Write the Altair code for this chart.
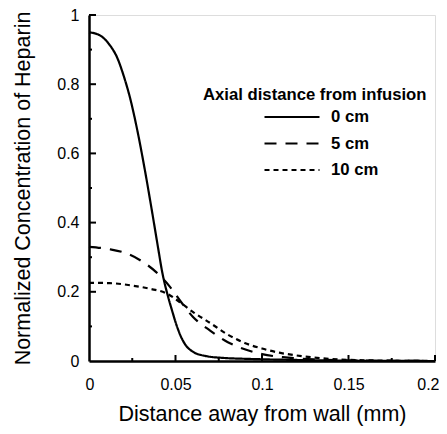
import altair as alt
import pandas as pd

series_names = ["0 cm", "5 cm", "10 cm"]

x_0cm = [0, 0.006, 0.012, 0.016, 0.020, 0.024, 0.028, 0.032, 0.036, 0.040, 0.0422,
         0.0457, 0.048, 0.0505, 0.053, 0.056, 0.060, 0.0678, 0.0774, 0.093, 0.12, 0.15, 0.2]
y_0cm = [0.950, 0.942, 0.913, 0.880, 0.825, 0.755, 0.665, 0.560, 0.445, 0.325, 0.260,
         0.186, 0.146, 0.105, 0.072, 0.045, 0.027, 0.014, 0.009, 0.006, 0.003, 0.001, 0.0]

x_5cm = [0, 0.012, 0.020, 0.030, 0.039, 0.0467, 0.053, 0.060, 0.070, 0.080, 0.090, 0.100,
         0.112, 0.13, 0.15, 0.2]
y_5cm = [0.330, 0.323, 0.314, 0.290, 0.256, 0.215, 0.172, 0.128, 0.088, 0.055, 0.034, 0.020,
         0.011, 0.005, 0.0015, 0.0]

x_10cm = [0, 0.012, 0.025, 0.035, 0.045, 0.052, 0.060, 0.070, 0.080, 0.090, 0.100, 0.110,
          0.120, 0.130, 0.140, 0.160, 0.2]
y_10cm = [0.226, 0.225, 0.218, 0.209, 0.195, 0.172, 0.142, 0.110, 0.077, 0.052, 0.036, 0.024,
          0.016, 0.010, 0.006, 0.002, 0.0]

x_label_values = [0, 0.05, 0.1, 0.15, 0.2]
x_major_ticks = [0.05, 0.1, 0.15, 0.2]
x_minor_ticks = [0.025, 0.075, 0.125, 0.175]
y_label_values = [0, 0.2, 0.4, 0.6, 0.8, 1]
y_major_ticks = [0.2, 0.4, 0.6, 0.8, 1.0]
y_minor_ticks = [0.1, 0.3, 0.5, 0.7, 0.9]

x_title = "Distance away from wall (mm)"
y_title = "Normalized Concentration of Heparin"
legend_title = "Axial distance from infusion"

rows = []
for name, xs_, ys_ in [("0 cm", x_0cm, y_0cm), ("5 cm", x_5cm, y_5cm), ("10 cm", x_10cm, y_10cm)]:
    for xv, yv in zip(xs_, ys_):
        rows.append({"x": xv, "y": yv, "series": name})
df = pd.DataFrame(rows)

W, H = 346, 346
FONT = "Liberation Sans, Arial, Helvetica"


def xscale():
    return alt.Scale(domain=[0, 0.2], nice=False, zero=False)


def yscale():
    return alt.Scale(domain=[0, 1], nice=False, zero=False)


lines = alt.Chart(df).mark_line(interpolate="monotone", strokeWidth=2.2, color="black").encode(
    x=alt.X("x:Q", scale=xscale(), axis=alt.Axis(
        orient="bottom", values=x_label_values, format="~g", ticks=False, grid=False,
        domainColor="black", domainWidth=2.5, labelFont=FONT, labelFontSize=16,
        labelColor="black", labelPadding=15, labelFlush=True, labelFlushOffset=4,
        title=x_title, titleFont=FONT, titleFontSize=21.5, titleFontWeight="normal",
        titleColor="black", titlePadding=11)),
    y=alt.Y("y:Q", scale=yscale(), axis=alt.Axis(
        orient="left", values=y_label_values, format="~g", ticks=False, grid=False,
        domainColor="black", domainWidth=2.5, labelFont=FONT, labelFontSize=16,
        labelColor="black", labelPadding=10, labelFlush=False, title=y_title, titleFont=FONT,
        titleFontSize=21.5, titleFontWeight="normal", titleColor="black", titlePadding=22)),
    strokeDash=alt.StrokeDash("series:N", scale=alt.Scale(
        domain=series_names, range=[[1, 0], [12, 9], [5, 4]]),
        legend=alt.Legend(orient="none", legendX=174, legendY=92, title=None,
                          symbolType="stroke", symbolSize=3025, symbolStrokeWidth=2.2,
                          symbolStrokeColor="black", labelFont=FONT, labelFontSize=16.7,
                          labelFontWeight="bold", labelColor="black", labelOffset=10,
                          clipHeight=20, rowPadding=6.5, padding=0)),
    detail="series:N",
)


def xticks(vals, size):
    return alt.Chart(pd.DataFrame({"v": vals})).mark_rule(color="black", strokeWidth=2).encode(
        x=alt.X("v:Q", scale=xscale(), axis=None), y=alt.value(H), y2=alt.value(H - size))


def yticks(vals, size):
    return alt.Chart(pd.DataFrame({"v": vals})).mark_rule(color="black", strokeWidth=2).encode(
        y=alt.Y("v:Q", scale=yscale(), axis=None), x=alt.value(0), x2=alt.value(size))


title_text = alt.Chart(pd.DataFrame({"t": [legend_title]})).mark_text(
    align="left", baseline="middle", font=FONT, fontSize=16.7, fontWeight="bold", color="black"
).encode(x=alt.value(114), y=alt.value(80), text="t:N")

chart = alt.layer(
    lines,
    xticks(x_major_ticks, 6), xticks(x_minor_ticks, 3),
    yticks(y_major_ticks, 7), yticks(y_minor_ticks, 3),
    title_text,
).resolve_scale(
    x="independent", y="independent"
).resolve_axis(
    x="independent", y="independent"
).properties(
    width=W, height=H, autosize="none",
    padding={"left": 81, "top": 7, "right": 4, "bottom": 65},
).configure_view(stroke=None).configure(background="white")

chart.save("out.html", embed_options={"renderer": "svg", "actions": False})
